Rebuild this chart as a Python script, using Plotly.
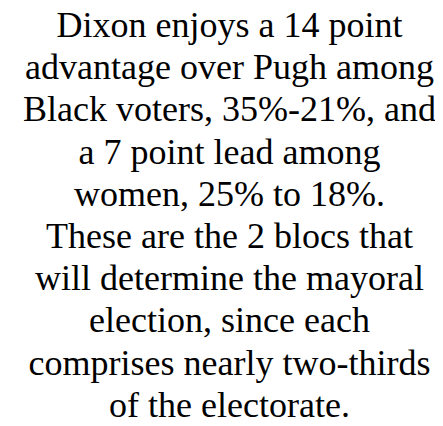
import plotly.graph_objects as go

lines = [
    "Dixon enjoys a 14 point",
    "advantage over Pugh among",
    "Black voters, 35%-21%, and",
    "a 7 point lead among",
    "women, 25% to 18%.",
    "These are the 2 blocs that",
    "will determine the mayoral",
    "election, since each",
    "comprises nearly two-thirds",
    "of the electorate.",
]

W, H = 443, 426
FONT_SIZE = 36
LINE_STEP = 42.2    # px between lines
FIRST_OFFSET = 32.5 # px from top, first line anchor
CAP_SHIFT = 0.35    # plotly's baseline offset for "middle" text, in em

ys = [H - (FIRST_OFFSET + i * LINE_STEP - CAP_SHIFT * FONT_SIZE) for i in range(len(lines))]
xs = [W / 2] * len(lines)

fig = go.Figure(go.Scatter(
    x=xs, y=ys, text=lines, mode="text",
    textposition="middle center",
    textfont=dict(family="Liberation Serif", size=FONT_SIZE, color="#000000"),
    cliponaxis=False, hoverinfo="skip", showlegend=False,
))
fig.update_xaxes(visible=False, range=[0, W], fixedrange=True)
fig.update_yaxes(visible=False, range=[0, H], fixedrange=True)
fig.update_layout(
    width=W, height=H,
    margin=dict(l=0, r=0, t=0, b=0),
    paper_bgcolor="white", plot_bgcolor="white",
)
fig.write_html("out.html")
